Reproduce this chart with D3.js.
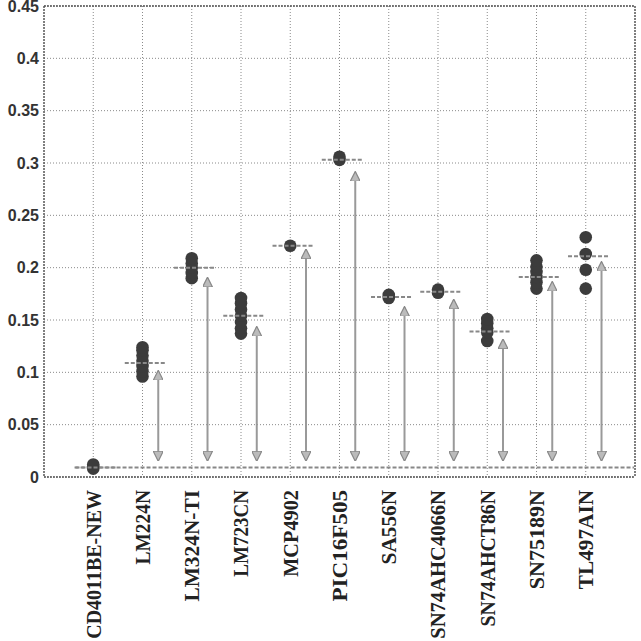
<!DOCTYPE html>
<html><head><meta charset="utf-8">
<script src="https://cdn.jsdelivr.net/npm/d3@7"></script>
<style>html,body{margin:0;padding:0;background:#fff}svg{display:block}</style>
</head><body>
<svg id="chart" width="641" height="641"></svg>
<script>
const categories = ["CD4011BE-NEW","LM224N","LM324N-TI","LM723CN","MCP4902","PIC16F505","SA556N","SN74AHC4066N","SN74AHCT86N","SN75189N","TL497AIN"];
const samples = [
  [0.008,0.010,0.012],
  [0.096,0.101,0.106,0.111,0.116,0.121,0.124],
  [0.190,0.195,0.200,0.204,0.209],
  [0.137,0.142,0.148,0.154,0.160,0.166,0.171],
  [0.221],
  [0.303,0.306],
  [0.171,0.174],
  [0.176,0.179],
  [0.130,0.138,0.142,0.147,0.151],
  [0.180,0.186,0.191,0.196,0.201,0.207],
  [0.180,0.198,0.213,0.229]
];
const means = [0.009,0.109,0.200,0.154,0.221,0.303,0.172,0.177,0.139,0.191,0.211];
const arrowTops = [null,0.101,0.190,0.143,0.217,0.291,0.162,0.169,0.131,0.186,0.205];
const arrowBottom = 0.016;
const baseline = 0.009;
const yTicks = [0,0.05,0.1,0.15,0.2,0.25,0.3,0.35,0.4,0.45];
const yTickLabels = ["0","0.05","0.1","0.15","0.2","0.25","0.3","0.35","0.4","0.45"];

const svg = d3.select("#chart");
const L = 44, R = 635, T = 6, B = 477;
const x = d3.scaleLinear().domain([0, 12]).range([L, R]);
const y = d3.scaleLinear().domain([0, 0.45]).range([B, T]);
const xi = i => x(i + 1);

// grid
const g = svg.append("g");
g.selectAll(".hg").data(yTicks).join("line")
  .attr("x1", L).attr("x2", R).attr("y1", d => y(d)).attr("y2", d => y(d))
  .attr("stroke", "#8a8a8a").attr("stroke-width", 1).attr("stroke-dasharray", "1,2");
g.selectAll(".vg").data(categories).join("line")
  .attr("x1", (d,i) => xi(i)).attr("x2", (d,i) => xi(i)).attr("y1", T).attr("y2", B)
  .attr("stroke", "#8a8a8a").attr("stroke-width", 1).attr("stroke-dasharray", "1,2");

// frame
const frame = [[L,T,R,T],[R,T,R,B],[L,B,R,B],[L,T,L,B]];
svg.selectAll(".fr").data(frame).join("line")
  .attr("x1", d=>d[0]).attr("y1", d=>d[1]).attr("x2", d=>d[2]).attr("y2", d=>d[3])
  .attr("stroke", "#555").attr("stroke-width", 1.5).attr("stroke-dasharray", "2,1");

// y axis labels
svg.selectAll(".yl").data(yTicks).join("text")
  .attr("x", 39).attr("y", d => y(d)).attr("dy", "0.36em")
  .attr("text-anchor", "end")
  .attr("font-family", "Liberation Sans, Arial, sans-serif")
  .attr("font-size", 16).attr("font-weight", "bold").attr("fill", "#333")
  .text((d,i) => yTickLabels[i]);

// x axis labels
svg.selectAll(".xl").data(categories).join("text")
  .attr("transform", (d,i) => `translate(${xi(i)},490) rotate(-90)`)
  .attr("text-anchor", "end").attr("dy", "0.35em")
  .attr("font-family", "Liberation Serif, Times New Roman, serif")
  .attr("font-size", 21).attr("font-weight", "bold").attr("fill", "#222")
  .attr("textLength", d => d.length * 12.4)
  .attr("lengthAdjust", "spacingAndGlyphs")
  .text(d => d);

// baseline
svg.append("line")
  .attr("x1", x(1 - 0.38)).attr("x2", R - 1)
  .attr("y1", y(baseline)).attr("y2", y(baseline))
  .attr("stroke", "#888").attr("stroke-width", 2).attr("stroke-dasharray", "4,2");

// arrows
const defs = svg.append("defs");
defs.append("marker").attr("id","ah").attr("viewBox","0 0 10 10")
  .attr("refX", 9).attr("refY", 5).attr("markerWidth", 5).attr("markerHeight", 5)
  .attr("orient", "auto-start-reverse").attr("markerUnits","strokeWidth")
  .append("path").attr("d","M0,0 L10,5 L0,10 Z").attr("fill","#bbb").attr("stroke","#888").attr("stroke-width",1.2);
const arrowData = arrowTops.map((t,i)=>({t,i})).filter(d => d.t !== null);
svg.selectAll(".ar").data(arrowData).join("line")
  .attr("x1", d => x(d.i + 1 + 0.32)).attr("x2", d => x(d.i + 1 + 0.32))
  .attr("y1", y(arrowBottom)).attr("y2", d => y(d.t))
  .attr("stroke", "#999").attr("stroke-width", 2)
  .attr("marker-start", "url(#ah)").attr("marker-end", "url(#ah)");

// dots
const pts = [];
samples.forEach((arr,i) => arr.forEach(v => pts.push({i, v})));
svg.selectAll(".dot").data(pts).join("circle")
  .attr("cx", d => xi(d.i)).attr("cy", d => y(d.v)).attr("r", 6.3)
  .attr("fill", "#3c3c3c");

// mean dashes
svg.selectAll(".mn").data(means).join("line")
  .attr("x1", (d,i) => x(i + 1 - 0.36)).attr("x2", (d,i) => x(i + 1 + 0.47))
  .attr("y1", d => y(d)).attr("y2", d => y(d))
  .attr("stroke", "#888").attr("stroke-width", 2).attr("stroke-dasharray", "4,2");
</script>
</body></html>
